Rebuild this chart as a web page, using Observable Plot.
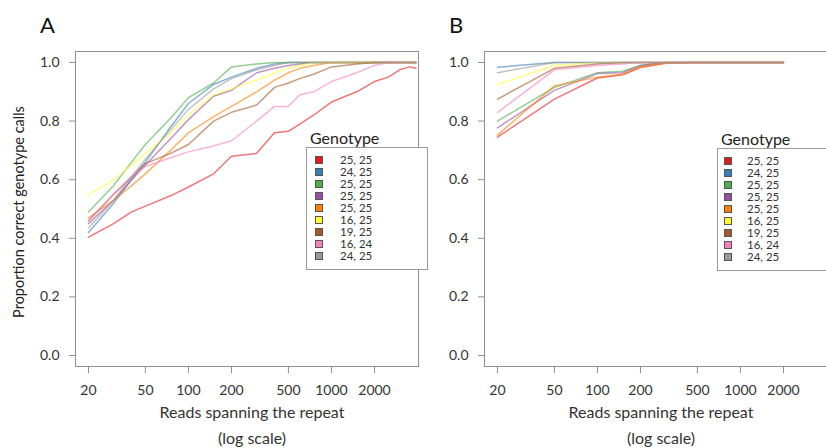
<!DOCTYPE html>
<html><head><meta charset="utf-8">
<script src="https://cdn.jsdelivr.net/npm/d3@7"></script>
<script src="https://cdn.jsdelivr.net/npm/@observablehq/plot@0.6"></script>
<style>
html,body{margin:0;padding:0;background:#fff;}
#fig{position:relative;width:826px;height:448px;overflow:hidden;font-family:Lato,"Open Sans",sans-serif;color:#333;background:#fff;}
.panel{position:absolute;top:0;}
.letter{position:absolute;font-size:22px;line-height:22px;color:#111;}
.ylab{position:absolute;left:18px;top:212px;transform:translate(-50%,-50%) rotate(-90deg);white-space:nowrap;font-size:14.5px;color:#222;}
.legtitle{position:absolute;font-size:16px;line-height:16px;color:#222;}
.leg{position:absolute;border:1px solid #9a9a9a;background:#fff;box-sizing:border-box;}
.sw{position:absolute;width:8px;height:8px;box-sizing:border-box;border:1px solid #555;}
.lt{position:absolute;font-size:11.5px;line-height:11px;height:11px;color:#333;white-space:nowrap;}
</style></head><body><div id="fig"></div>
<script>
// ---- data ----
const genotypes = ["25, 25","24, 25","25, 25","25, 25","25, 25","16, 25","19, 25","16, 24","24, 25"];
const colors = ["#e41a1c","#377eb8","#4daf4a","#984ea3","#ff7f00","#ffff33","#a65628","#f781bf","#999999"];
const xTicks = [20, 50, 100, 200, 500, 1000, 2000];
const yTicks = [0, 0.2, 0.4, 0.6, 0.8, 1.0];
const panelLetters = ["A", "B"];
const yLabel = "Proportion correct genotype calls";
const xLabel = ["Reads spanning the repeat", "(log scale)"];
const legendTitle = "Genotype";

// Panel A
const readsA  = [20, 30, 40, 50, 75, 100, 150, 200, 300, 400, 500, 600, 750, 1000, 1500, 2000, 2500, 3000, 3500, 3900];
const redA    = [0.404,0.45,0.49,0.51,0.545,0.575,0.62,0.68,0.69,0.76,0.765,0.79,0.82,0.865,0.90,0.935,0.95,0.975,0.985,0.98];
const blueA   = [0.42,0.52,0.60,0.66,0.78,0.86,0.925,0.95,0.98,0.995,1,1,1,1,1,1,1,1,1,1];
const greenA  = [0.49,0.58,0.66,0.72,0.81,0.88,0.93,0.985,0.995,1,1,1,1,1,1,1,1,1,1,1];
const purpleA = [0.45,0.53,0.60,0.65,0.74,0.805,0.885,0.905,0.965,0.98,0.99,0.995,1,1,1,1,1,1,1,1];
const orangeA = [0.47,0.53,0.58,0.62,0.70,0.76,0.815,0.85,0.90,0.94,0.965,0.98,0.99,1,1,1,1,1,1,1];
const yellowA = [0.548,0.60,0.65,0.69,0.76,0.82,0.89,0.91,0.94,0.965,0.98,0.99,1,1,1,1,1,1,1,1];
const brownA  = [0.46,0.55,0.61,0.655,0.69,0.72,0.80,0.83,0.855,0.915,0.93,0.945,0.96,0.985,0.995,1,1,1,1,1];
const pinkA   = [0.46,0.55,0.61,0.645,0.675,0.695,0.715,0.733,0.80,0.85,0.85,0.89,0.90,0.935,0.965,0.99,1,1,1,1];
const greyA   = [0.435,0.53,0.61,0.67,0.77,0.84,0.91,0.945,0.975,0.99,1,1,1,1,1,1,1,1,1,1];

// Panel B
const readsB  = [20, 50, 100, 150, 200, 300, 500, 1000, 2000];
const redB    = [0.745,0.875,0.947,0.958,0.983,0.997,1,1,1];
const blueB   = [0.984,1,1,1,1,1,1,1,1];
const greenB  = [0.80,0.915,0.965,0.97,0.99,1,1,1,1];
const purpleB = [0.777,0.905,0.962,0.965,0.99,1,1,1,1];
const orangeB = [0.752,0.92,0.95,0.96,0.985,0.998,1,1,1];
const yellowB = [0.925,0.99,1,1,1,1,1,1,1];
const brownB  = [0.875,0.98,0.995,1,1,1,1,1,1];
const pinkB   = [0.83,0.975,0.99,0.995,1,1,1,1,1];
const greyB   = [0.965,1,1,1,1,1,1,1,1];

const seriesA = [redA, blueA, greenA, purpleA, orangeA, yellowA, brownA, pinkA, greyA];
const seriesB = [redB, blueB, greenB, purpleB, orangeB, yellowB, brownB, pinkB, greyB];

// ---- drawing ----
const fig = document.getElementById("fig");

function makePanel(xs, series, offsetX) {
  const data = [];
  series.forEach((vals, s) => vals.forEach((v, j) => data.push({x: xs[j], y: v, s})));
  const chart = Plot.plot({
    width: 430, height: 448,
    marginLeft: 75, marginRight: 12, marginTop: 51, marginBottom: 82,
    x: {type: "log", domain: [16.23, 4062]},
    y: {domain: [-0.0375, 1.0375]},
    style: {fontFamily: "Lato, 'Open Sans', sans-serif", fontSize: "14px", color: "#333", background: "transparent", overflow: "visible"},
    marks: [
      Plot.line(data, {x: "x", y: "y", z: "s", stroke: d => colors[d.s], strokeOpacity: 0.6, strokeWidth: 1.5}),
      Plot.frame({stroke: "#8f8f8f"}),
      Plot.axisX({ticks: xTicks, tickFormat: () => "", tickSize: 7, stroke: "#8f8f8f", label: null}),
      Plot.text(xTicks, {x: d => d, text: d => String(d), frameAnchor: "bottom", lineAnchor: "middle", dy: 24, fontSize: 14, fill: "#333"}),
      Plot.axisY({ticks: yTicks, tickFormat: d => d.toFixed(1), tickSize: 6, tickPadding: 10, stroke: "#8f8f8f", fill: "#333", fontSize: 14, label: null}),
      Plot.text([xLabel[0]], {frameAnchor: "bottom", dx: 5, dy: 51, fontSize: 16, fill: "#333"}),
      Plot.text([xLabel[1]], {frameAnchor: "bottom", dx: 5, dy: 77, fontSize: 16, fill: "#333"})
    ]
  });
  chart.classList.add("panel");
  chart.style.left = offsetX + "px";
  fig.appendChild(chart);
}

function makeLegend(boxLeft, boxTop, swX, txtX) {
  const t = document.createElement("div");
  t.className = "legtitle";
  t.textContent = legendTitle;
  t.style.left = (boxLeft + 4) + "px";
  t.style.top = (boxTop - 17) + "px";
  fig.appendChild(t);
  const box = document.createElement("div");
  box.className = "leg";
  box.style.left = boxLeft + "px";
  box.style.top = boxTop + "px";
  box.style.width = "122px";
  box.style.height = "123px";
  fig.appendChild(box);
  genotypes.forEach((g, i) => {
    const cy = boxTop + 13 + i * 12;
    const sw = document.createElement("div");
    sw.className = "sw";
    sw.style.background = colors[i];
    sw.style.left = swX + "px";
    sw.style.top = (cy - 4) + "px";
    fig.appendChild(sw);
    const lt = document.createElement("div");
    lt.className = "lt";
    lt.textContent = g;
    lt.style.left = txtX + "px";
    lt.style.top = (cy - 6) + "px";
    fig.appendChild(lt);
  });
}

makePanel(readsA, seriesA, 0);
makePanel(readsB, seriesB, 409);

panelLetters.forEach((L, i) => {
  const d = document.createElement("div");
  d.className = "letter";
  d.textContent = L;
  d.style.left = (40 + i * 409) + "px";
  d.style.top = "14px";
  fig.appendChild(d);
});

const yl = document.createElement("div");
yl.className = "ylab";
yl.textContent = yLabel;
fig.appendChild(yl);

makeLegend(306, 147, 315, 340);
makeLegend(717, 148, 724, 747);
</script>
</body></html>
